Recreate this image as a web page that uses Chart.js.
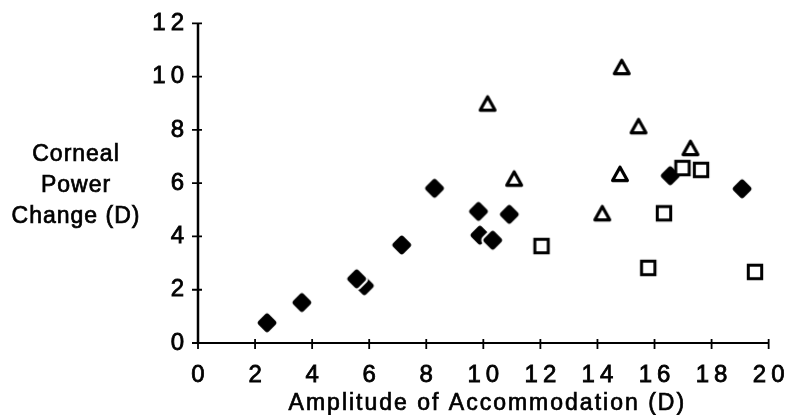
<!DOCTYPE html>
<html>
<head>
<meta charset="utf-8">
<script src="https://cdn.jsdelivr.net/npm/chart.js@4/dist/chart.umd.min.js"></script>
<style>
  html, body { margin: 0; padding: 0; background: #fff; }
  #wrap { width: 800px; height: 415px; position: relative; }
</style>
</head>
<body>
<div id="wrap"><canvas id="chart"></canvas></div>
<script>
// Corneal power change against amplitude of accommodation, three subject groups.
// Partly hidden diamonds come first so the full ones are drawn over them.
const diamondX = [5.83, 9.88, 16.55, 2.42, 3.64, 5.56, 7.14, 8.29, 9.83, 10.33, 10.91, 19.07];
const diamondY = [2.15, 4.05, 6.28, 0.76, 1.52, 2.41, 3.68, 5.81, 4.94, 3.86, 4.83, 5.79];

const triangleX = [10.15, 11.08, 14.17, 14.79, 14.85, 15.44, 17.26];
const triangleY = [8.99, 6.17, 4.87, 6.35, 10.36, 8.14, 7.32];

const squareX = [12.04, 15.78, 16.33, 16.98, 17.63, 19.52];
const squareY = [3.64, 2.82, 4.87, 6.57, 6.50, 2.67];

const xTicks = [0, 2, 4, 6, 8, 10, 12, 14, 16, 18, 20];
const yTicks = [0, 2, 4, 6, 8, 10, 12];

const xTitle = 'Amplitude of Accommodation (D)';
const yTitleLines = ['Corneal', 'Power', 'Change (D)'];

const FONT = '"Liberation Sans", Arial, Helvetica, sans-serif';
const TICK_SPACING = 5;

function toPoints(xs, ys) {
  return xs.map((x, i) => ({ x: x, y: ys[i] }));
}

// Small offscreen canvases used as point styles
function makeMarker(size, paint) {
  const c = document.createElement('canvas');
  c.width = size; c.height = size;
  const g = c.getContext('2d');
  g.translate(size / 2, size / 2);
  paint(g);
  return c;
}

const diamondMarker = makeMarker(28, g => {
  const r = 6.5;
  const path = () => {
    g.beginPath();
    g.moveTo(0, -r); g.lineTo(r, 0); g.lineTo(0, r); g.lineTo(-r, 0); g.closePath();
  };
  g.lineJoin = 'round';
  path();
  g.strokeStyle = '#fff'; g.lineWidth = 10; g.stroke();
  g.fillStyle = '#fff'; g.fill();
  path();
  g.fillStyle = '#000'; g.fill();
  g.strokeStyle = '#000'; g.lineWidth = 5.5; g.stroke();
});

const triangleMarker = makeMarker(24, g => {
  g.beginPath();
  g.moveTo(0, -6.8); g.lineTo(7.4, 6.6); g.lineTo(-7.4, 6.6); g.closePath();
  g.fillStyle = '#fff'; g.fill();
  g.lineJoin = 'round';
  g.strokeStyle = '#000'; g.lineWidth = 3.2; g.stroke();
});

const squareMarker = makeMarker(22, g => {
  g.beginPath();
  g.rect(-6.7, -6.7, 13.4, 13.4);
  g.fillStyle = '#fff'; g.fill();
  g.strokeStyle = '#000'; g.lineWidth = 3; g.stroke();
});

// Axis lines with short crossing tick marks, plus the free-standing axis titles
const framePlugin = {
  id: 'frame',
  beforeDraw(chart) {
    chart.ctx.letterSpacing = TICK_SPACING + 'px';
  },
  beforeDatasetsDraw(chart) {
    const { ctx, chartArea: a, scales } = chart;
    const xs = scales.x, ys = scales.y;
    ctx.save();
    ctx.strokeStyle = '#000';
    ctx.lineWidth = 2.5;
    ctx.beginPath();
    ctx.moveTo(a.left, a.top);
    ctx.lineTo(a.left, a.bottom);
    ctx.stroke();
    ctx.lineWidth = 2;
    ctx.beginPath();
    ctx.moveTo(a.left - 6, a.bottom);
    ctx.lineTo(a.right, a.bottom);
    ctx.stroke();
    ctx.lineWidth = 1.8;
    ctx.beginPath();
    ys.ticks.forEach(t => {
      const py = ys.getPixelForValue(t.value);
      ctx.moveTo(a.left - 6, py);
      ctx.lineTo(a.left + 4, py);
    });
    xs.ticks.forEach(t => {
      const px = xs.getPixelForValue(t.value);
      ctx.moveTo(px, a.bottom - 4);
      ctx.lineTo(px, a.bottom + 6);
    });
    ctx.stroke();
    ctx.restore();
  },
  afterDraw(chart) {
    const { ctx, chartArea: a } = chart;
    ctx.save();
    ctx.fillStyle = '#000';
    ctx.strokeStyle = '#000';
    ctx.lineWidth = 0.7;
    ctx.font = '23px ' + FONT;
    ctx.textAlign = 'center';
    ctx.textBaseline = 'alphabetic';
    ctx.letterSpacing = '2px';
    const tx = (a.left + a.right) / 2 + 4;
    ctx.fillText(xTitle, tx, 410);
    ctx.strokeText(xTitle, tx, 410);
    ctx.letterSpacing = '1px';
    yTitleLines.forEach((line, i) => {
      ctx.fillText(line, 76, 161 + i * 31);
      ctx.strokeText(line, 76, 161 + i * 31);
    });
    ctx.restore();
  }
};

const tickFont = { family: FONT, size: 24 };

new Chart(document.getElementById('chart'), {
  type: 'scatter',
  data: {
    datasets: [
      {
        label: 'squares',
        data: toPoints(squareX, squareY),
        pointStyle: squareMarker,
        pointRadius: 8,
        pointHoverRadius: 8
      },
      {
        label: 'triangles',
        data: toPoints(triangleX, triangleY),
        pointStyle: triangleMarker,
        pointRadius: 8,
        pointHoverRadius: 8
      },
      {
        label: 'diamonds',
        data: toPoints(diamondX, diamondY),
        pointStyle: diamondMarker,
        pointRadius: 8,
        pointHoverRadius: 8
      }
    ]
  },
  options: {
    responsive: true,
    maintainAspectRatio: false,
    animation: false,
    events: [],
    layout: { padding: { left: 0, right: 20, top: 21, bottom: 0 } },
    plugins: {
      legend: { display: false },
      tooltip: { enabled: false }
    },
    scales: {
      x: {
        type: 'linear',
        min: 0,
        max: 20,
        afterBuildTicks: s => { s.ticks = xTicks.map(v => ({ value: v })); },
        afterFit: s => { s.height = 72; },
        grid: { display: false, drawTicks: false },
        border: { display: false },
        ticks: {
          font: tickFont,
          color: '#000',
          textStrokeColor: '#000',
          textStrokeWidth: 0.8,
          padding: 18,
          labelOffset: TICK_SPACING / 2,
          maxRotation: 0,
          autoSkip: false
        }
      },
      y: {
        type: 'linear',
        min: 0,
        max: 12,
        afterBuildTicks: s => { s.ticks = yTicks.map(v => ({ value: v })); },
        afterFit: s => { s.width = 198; },
        grid: { display: false, drawTicks: false },
        border: { display: false },
        ticks: {
          font: tickFont,
          color: '#000',
          textStrokeColor: '#000',
          textStrokeWidth: 0.8,
          padding: 9,
          autoSkip: false
        }
      }
    }
  },
  plugins: [framePlugin]
});
</script>
</body>
</html>
